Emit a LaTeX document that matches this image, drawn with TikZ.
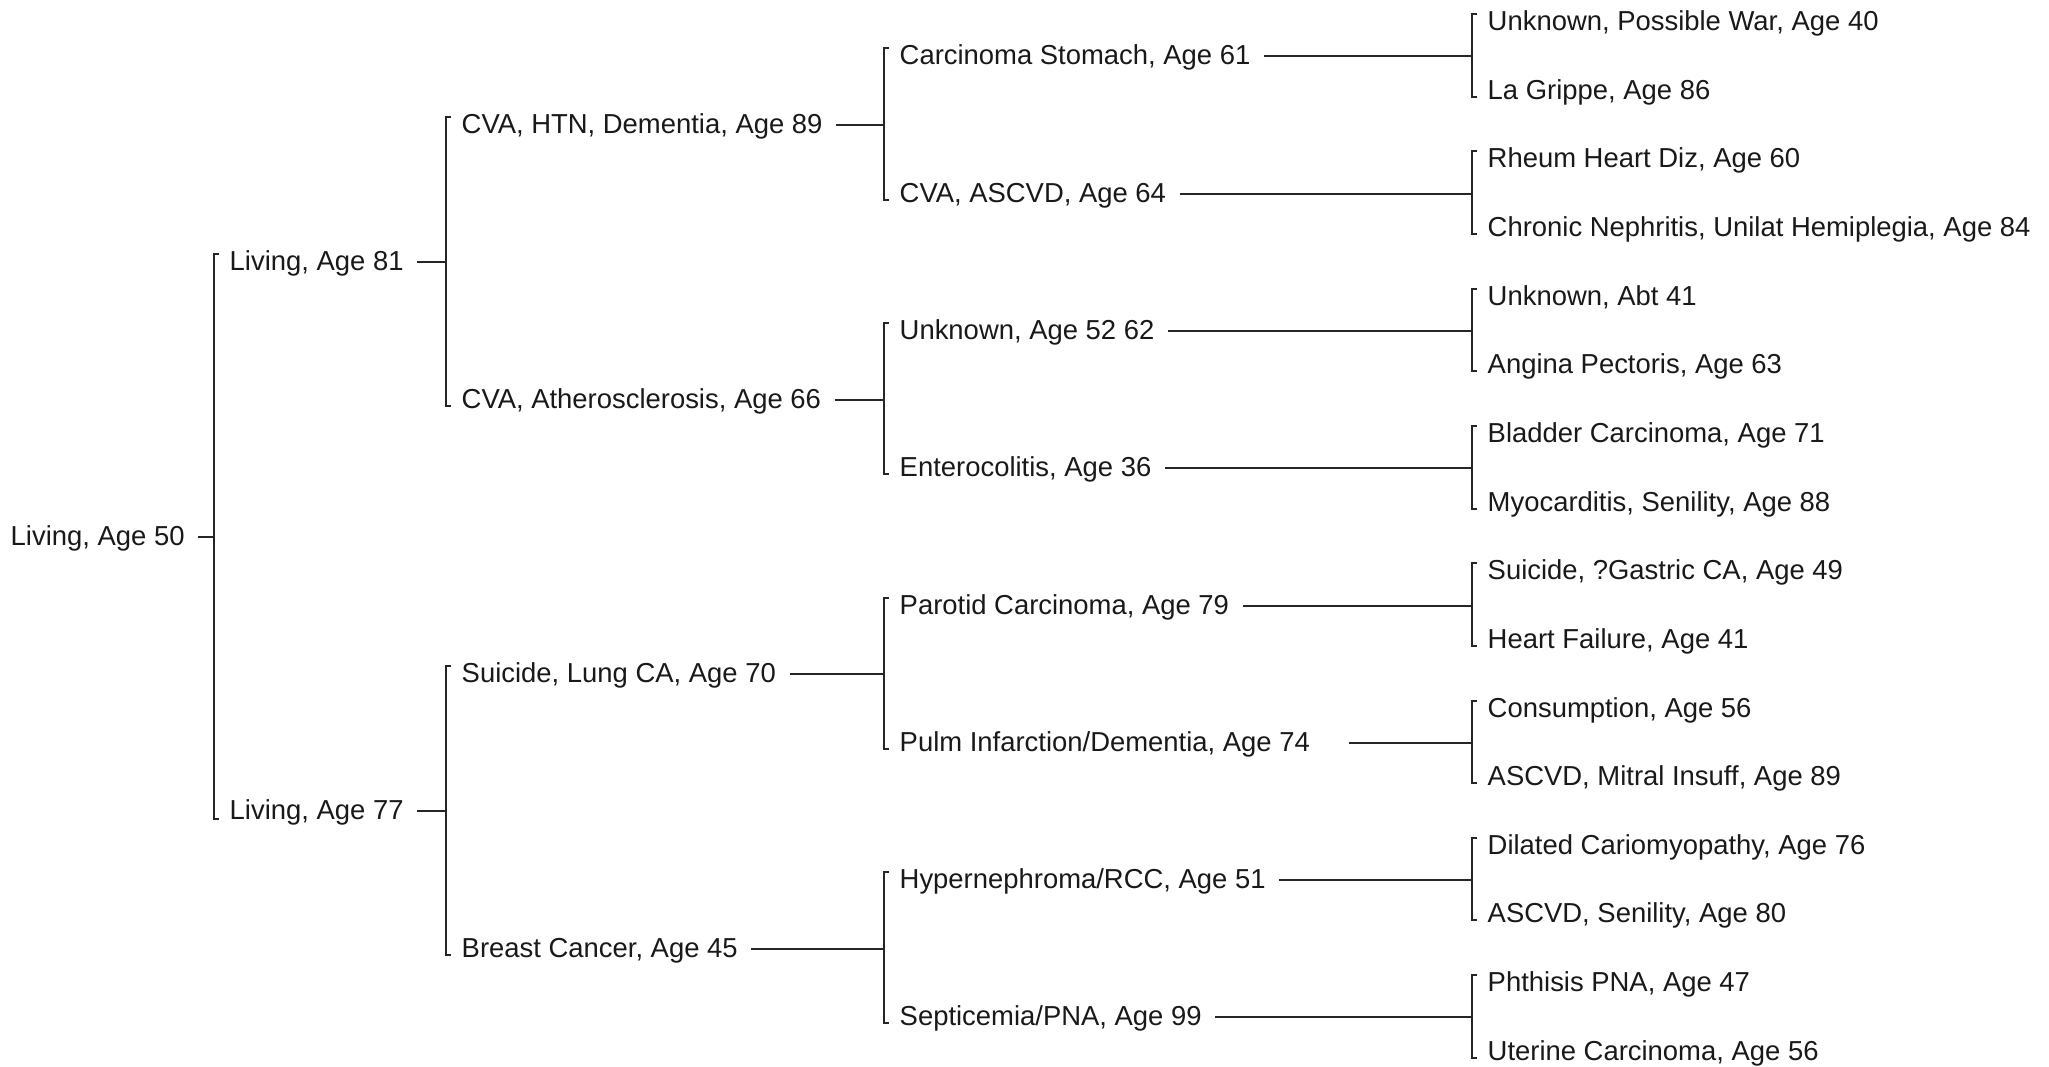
\documentclass[tikz,border=0pt]{standalone}
\usepackage{fontspec}
\setmainfont{Liberation Sans}
\usepackage{tikz}
\begin{document}
\begin{tikzpicture}[x=0.01cm,y=-0.01cm]
\tikzstyle{person}=[anchor=west,inner xsep=1.5mm,inner ysep=0pt,text height=0.75em,text depth=0.25em,font=\fontsize{7.8}{9}\selectfont,text=black!90]
\tikzstyle{link}=[draw=black!85,line width=0.6pt]
\useasboundingbox (0,0) rectangle (2049,1067);
% proband and parents
\node [person] at (-5,537) (me) {Living, Age 50};
\node [person] at (214,262) (f) {Living, Age 81};
\node [person] at (214,811) (m) {Living, Age 77};
% grandparents
\node [person] at (446,125) (ff) {CVA, HTN, Dementia, Age 89};
\node [person] at (446,400) (fm) {CVA, Atherosclerosis, Age 66};
\node [person] at (446,674) (mf) {Suicide, Lung CA, Age 70};
\node [person] at (446,949) (mm) {Breast Cancer, Age 45};
% great-grandparents
\node [person] at (884,56) (fff) {Carcinoma Stomach, Age 61};
\node [person] at (884,194) (ffm) {CVA, ASCVD, Age 64};
\node [person] at (884,331) (fmf) {Unknown, Age 52 62};
\node [person] at (884,468) (fmm) {Enterocolitis, Age 36};
\node [person] at (884,606) (mff) {Parotid Carcinoma, Age 79};
\node [person] at (884,743) (mfm) {Pulm Infarction/Dementia, Age 74};
\node [person] at (884,880) (mmf) {Hypernephroma/RCC, Age 51};
\node [person] at (884,1017) (mmm) {Septicemia/PNA, Age 99};
% great-great-grandparents
\node [person] at (1472,22) (ffff) {Unknown, Possible War, Age 40};
\node [person] at (1472,91) (fffm) {La Grippe, Age 86};
\node [person] at (1472,159) (ffmf) {Rheum Heart Diz, Age 60};
\node [person] at (1472,228) (ffmm) {Chronic Nephritis, Unilat Hemiplegia, Age 84};
\node [person] at (1472,297) (fmff) {Unknown, Abt 41};
\node [person] at (1472,365) (fmfm) {Angina Pectoris, Age 63};
\node [person] at (1472,434) (fmmf) {Bladder Carcinoma, Age 71};
\node [person] at (1472,503) (fmmm) {Myocarditis, Senility, Age 88};
\node [person] at (1472,571) (mfff) {Suicide, ?Gastric CA, Age 49};
\node [person] at (1472,640) (mffm) {Heart Failure, Age 41};
\node [person] at (1472,709) (mfmf) {Consumption, Age 56};
\node [person] at (1472,777) (mfmm) {ASCVD, Mitral Insuff, Age 89};
\node [person] at (1472,846) (mmff) {Dilated Cariomyopathy, Age 76};
\node [person] at (1472,914) (mmfm) {ASCVD, Senility, Age 80};
\node [person] at (1472,983) (mmmf) {Phthisis PNA, Age 47};
\node [person] at (1472,1052) (mmmm) {Uterine Carcinoma, Age 56};
% brackets
\draw [link] ([xshift=-0.2mm]me.east) -- (me -| f.west);
\draw [link] ([shift={(0.5mm,0.8mm)}]f.west) -- ([yshift=0.8mm]f.west) -- ([yshift=-0.8mm]m.west) -- ++(0.5mm,0);
\draw [link] ([xshift=-0.2mm]f.east) -- (f -| ff.west);
\draw [link] ([shift={(0.5mm,0.8mm)}]ff.west) -- ([yshift=0.8mm]ff.west) -- ([yshift=-0.6mm]fm.west) -- ++(0.5mm,0);
\draw [link] ([xshift=-0.2mm]m.east) -- (m -| mf.west);
\draw [link] ([shift={(0.5mm,0.8mm)}]mf.west) -- ([yshift=0.8mm]mf.west) -- ([yshift=-0.6mm]mm.west) -- ++(0.5mm,0);
\draw [link] ([xshift=-0.2mm]ff.east) -- (ff -| fff.west);
\draw [link] ([shift={(0.5mm,0.8mm)}]fff.west) -- ([yshift=0.8mm]fff.west) -- ([yshift=-0.6mm]ffm.west) -- ++(0.5mm,0);
\draw [link] ([xshift=-0.2mm]fm.east) -- (fm -| fmf.west);
\draw [link] ([shift={(0.5mm,0.8mm)}]fmf.west) -- ([yshift=0.8mm]fmf.west) -- ([yshift=-0.6mm]fmm.west) -- ++(0.5mm,0);
\draw [link] ([xshift=-0.2mm]mf.east) -- (mf -| mff.west);
\draw [link] ([shift={(0.5mm,0.8mm)}]mff.west) -- ([yshift=0.8mm]mff.west) -- ([yshift=-0.6mm]mfm.west) -- ++(0.5mm,0);
\draw [link] ([xshift=-0.2mm]mm.east) -- (mm -| mmf.west);
\draw [link] ([shift={(0.5mm,0.8mm)}]mmf.west) -- ([yshift=0.8mm]mmf.west) -- ([yshift=-0.6mm]mmm.west) -- ++(0.5mm,0);
\draw [link] ([xshift=-0.2mm]fff.east) -- (fff -| ffff.west);
\draw [link] ([shift={(0.5mm,0.8mm)}]ffff.west) -- ([yshift=0.8mm]ffff.west) -- ([yshift=-0.6mm]fffm.west) -- ++(0.5mm,0);
\draw [link] ([xshift=-0.2mm]ffm.east) -- (ffm -| ffmf.west);
\draw [link] ([shift={(0.5mm,0.8mm)}]ffmf.west) -- ([yshift=0.8mm]ffmf.west) -- ([yshift=-0.6mm]ffmm.west) -- ++(0.5mm,0);
\draw [link] ([xshift=-0.2mm]fmf.east) -- (fmf -| fmff.west);
\draw [link] ([shift={(0.5mm,0.8mm)}]fmff.west) -- ([yshift=0.8mm]fmff.west) -- ([yshift=-0.6mm]fmfm.west) -- ++(0.5mm,0);
\draw [link] ([xshift=-0.2mm]fmm.east) -- (fmm -| fmmf.west);
\draw [link] ([shift={(0.5mm,0.8mm)}]fmmf.west) -- ([yshift=0.8mm]fmmf.west) -- ([yshift=-0.6mm]fmmm.west) -- ++(0.5mm,0);
\draw [link] ([xshift=-0.2mm]mff.east) -- (mff -| mfff.west);
\draw [link] ([shift={(0.5mm,0.8mm)}]mfff.west) -- ([yshift=0.8mm]mfff.west) -- ([yshift=-0.6mm]mffm.west) -- ++(0.5mm,0);
\draw [link] ([xshift=2.3mm]mfm.east) -- (mfm -| mfmf.west);
\draw [link] ([shift={(0.5mm,0.8mm)}]mfmf.west) -- ([yshift=0.8mm]mfmf.west) -- ([yshift=-0.6mm]mfmm.west) -- ++(0.5mm,0);
\draw [link] ([xshift=-0.2mm]mmf.east) -- (mmf -| mmff.west);
\draw [link] ([shift={(0.5mm,0.8mm)}]mmff.west) -- ([yshift=0.8mm]mmff.west) -- ([yshift=-0.6mm]mmfm.west) -- ++(0.5mm,0);
\draw [link] ([xshift=-0.2mm]mmm.east) -- (mmm -| mmmf.west);
\draw [link] ([shift={(0.5mm,0.8mm)}]mmmf.west) -- ([yshift=0.8mm]mmmf.west) -- ([yshift=-0.6mm]mmmm.west) -- ++(0.5mm,0);
\end{tikzpicture}
\end{document}
